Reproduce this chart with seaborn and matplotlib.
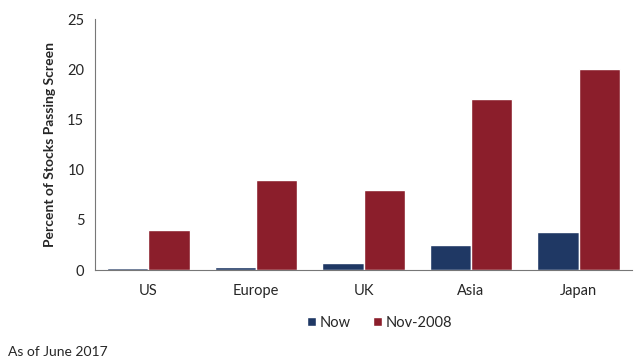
import pandas as pd
import seaborn as sns
import matplotlib.pyplot as plt
import numpy as np

# Data
regions = ['US', 'Europe', 'UK', 'Asia', 'Japan']
now_vals = [0.15, 0.3, 0.65, 2.5, 3.8]
nov2008_vals = [4, 9, 8, 17, 20]
series = ['Now', 'Nov-2008']

df = pd.DataFrame({
    'region': regions * 2,
    'value': now_vals + nov2008_vals,
    'series': [series[0]] * len(regions) + [series[1]] * len(regions),
})

sns.set_style('white')
plt.rcParams['font.family'] = ['Lato', 'DejaVu Sans']

fig = plt.figure(figsize=(6.4, 3.6), dpi=100)
ax = fig.add_axes([0.148, 0.25, 0.84, 0.697])

sns.barplot(data=df, x='region', y='value', hue='series',
            palette=['#1f3864', '#8b1e2b'], width=0.77, saturation=1,
            ax=ax, legend=True)

ax.set_ylim(0, 25)
ax.set_yticks([0, 5, 10, 15, 20, 25])
ax.set_xlim(-0.5, 4.5)
ax.set_xlabel('')
ax.set_ylabel('Percent of Stocks Passing Screen', fontsize=10, fontweight='bold', labelpad=8)

# ticks between categories on x
ax.set_xticks(np.arange(-0.5, 5, 1), minor=True)
ax.tick_params(axis='x', which='major', length=0, pad=10, labelsize=10.5)
ax.tick_params(axis='x', which='minor', length=5, direction='out', color='#444444', width=0.8)
ax.tick_params(axis='y', length=4, direction='out', color='#444444', width=0.8, labelsize=10.5)

for s in ['top', 'right']:
    ax.spines[s].set_visible(False)
for s in ['left', 'bottom']:
    ax.spines[s].set_color('#777777')
    ax.spines[s].set_linewidth(0.8)

leg = ax.legend(loc='upper center', bbox_to_anchor=(0.53, -0.13), ncol=2, frameon=False,
                fontsize=10.5, handlelength=0.6, handleheight=0.6, handletextpad=0.3,
                columnspacing=1.5)
leg.set_title(None)

fig.text(0.012, 0.006, 'As of June 2017', fontsize=10, ha='left', va='bottom')

fig.savefig('out.png', dpi=100)
